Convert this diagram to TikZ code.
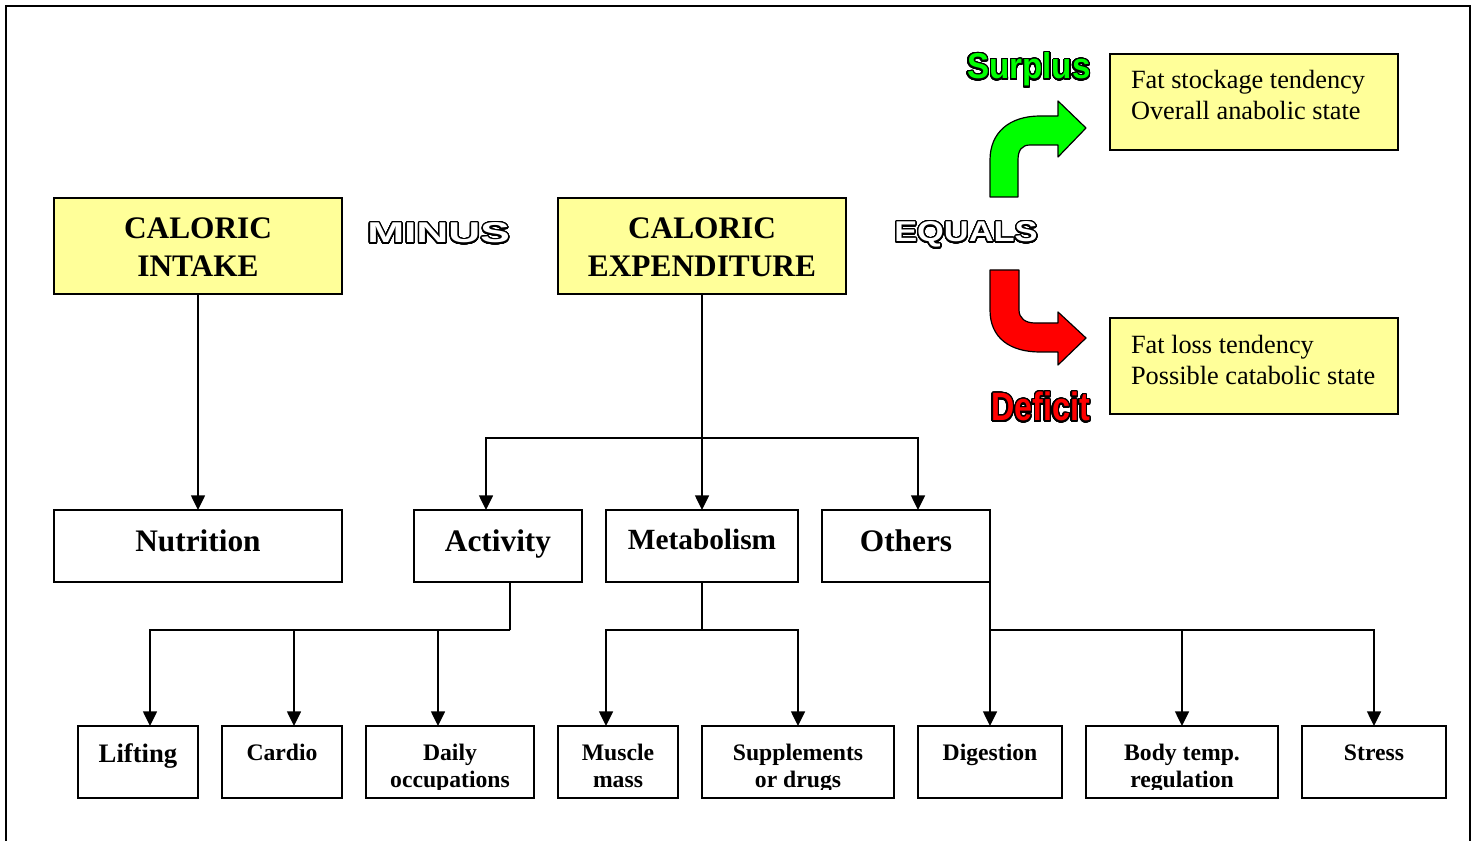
\documentclass[tikz,border=0pt]{standalone}
\usepackage{fontspec}
\setmainfont{Liberation Serif}
\newfontfamily\headsans{Liberation Sans}
\usepackage{contour}
\contourlength{1pt}
\contournumber{48}
\usetikzlibrary{arrows.meta}

\definecolor{boxyellow}{HTML}{FFFF99}
\definecolor{surplusgreen}{HTML}{00FF00}
\definecolor{deficitred}{HTML}{FF0000}

% fixed-size text block: width, height, first baseline below top, content
\newcommand\inbox[4]{\parbox[c][#2][t]{#1}{\centering\rule{0pt}{#3}#4}}
\newcommand\leftinbox[4]{\parbox[c][#2][t]{#1}{\raggedright\leftskip=15.75pt\rule{0pt}{#3}#4}}
\newcommand\headfont{\fontsize{23.5pt}{28.5pt}\selectfont\bfseries}
\newcommand\metafont{\fontsize{22pt}{26pt}\selectfont\bfseries}
\newcommand\notefont{\fontsize{19.75pt}{23.25pt}\selectfont}
\newcommand\leaffont{\fontsize{17.75pt}{20.25pt}\selectfont\bfseries}
\newcommand\liftfont{\fontsize{20pt}{24pt}\selectfont\bfseries}
% outlined word scaled to a given width and cap height
\newcommand\outlineword[4]{{\color{#3}\contour{black}{\resizebox{#1}{#2}{\headsans\bfseries #4}}}}

\tikzset{
  box/.style={draw, line width=1.5pt, inner sep=0pt, outer sep=0pt},
  ybox/.style={box, fill=boxyellow},
  leaf/.style={box, minimum height=54pt},
  conn/.style={line width=1.1pt, -{Triangle[length=11pt,width=10.5pt]}},
  plain/.style={line width=1.1pt},
  bigarrow/.style={line width=0.9pt, draw=black, line join=round},
  word/.style={inner sep=0pt, anchor=base west},
}

\begin{document}
\begin{tikzpicture}[x=0.75pt, y=-0.75pt]
\useasboundingbox (0,0) rectangle (1477,841);

% page frame
\draw[line width=1.5pt] (6,841) -- (6,6) -- (1470,6) -- (1470,841);

% top row
\node[ybox] (intake) at (198,246) {\headfont\inbox{216pt}{72pt}{30.4pt}{CALORIC\\INTAKE}};
\node[ybox] (expend) at (702,246) {\headfont\inbox{216pt}{72pt}{30.4pt}{CALORIC\\EXPENDITURE}};
\node[word] (minus) at (367,243) {\outlineword{107pt}{15pt}{white}{MINUS}};
\node[word] (equals) at (894,242) {\outlineword{107.5pt}{15pt}{white}{EQUALS}};

% outcomes
\node[word] (surplus) at (967,79) {\outlineword{92.5pt}{19.5pt}{surplusgreen}{Surplus}};
\node[word] (deficit) at (991,421) {\outlineword{74pt}{21.5pt}{deficitred}{Deficit}};
\node[ybox] (gain) at (1254,102) {\notefont\leftinbox{216pt}{72pt}{26.25pt}{Fat stockage tendency\\Overall anabolic state}};
\node[ybox] (loss) at (1254,366) {\notefont\leftinbox{216pt}{72pt}{26.25pt}{Fat loss tendency\\Possible catabolic state}};

\draw[bigarrow, fill=surplusgreen]
  (990,197) -- (990,160) .. controls (990,132) and (1010,116) .. (1040,116)
  -- (1058,116) -- (1058,101) -- (1086,128) -- (1058,157) -- (1058,145)
  -- (1030,145) .. controls (1022,145) and (1018,150) .. (1018,160)
  -- (1018,197) -- cycle;
\draw[bigarrow, fill=deficitred]
  (990,270) -- (1019,270) -- (1019,310) .. controls (1019,318) and (1025,323) .. (1035,323)
  -- (1058,323) -- (1058,312) -- (1086,338) -- (1058,365) -- (1058,352)
  -- (1040,352) .. controls (1010,352) and (990,338) .. (990,310) -- cycle;

% middle row
\node[box] (nutrition) at (198,546) {\headfont\inbox{216pt}{54pt}{31pt}{Nutrition}};
\node[box] (activity) at (498,546) {\headfont\inbox{126pt}{54pt}{31pt}{Activity}};
\node[box] (metab) at (702,546) {\metafont\inbox{144pt}{54pt}{29.6pt}{Metabolism}};
\node[box] (others) at (906,546) {\headfont\inbox{126pt}{54pt}{31pt}{Others}};

% bottom row
\node[leaf, minimum width=90pt] (lifting) at (138,762) {};
\node[leaf, minimum width=90pt] (cardio) at (282,762) {};
\node[leaf, minimum width=126pt] (daily) at (450,762) {};
\node[leaf, minimum width=90pt] (muscle) at (618,762) {};
\node[leaf, minimum width=144pt] (supp) at (798,762) {};
\node[leaf, minimum width=108pt] (digest) at (990,762) {};
\node[leaf, minimum width=144pt] (bodyt) at (1182,762) {};
\node[leaf, minimum width=108pt] (stress) at (1374,762) {};

\begin{scope}
  \clip (60,700) rectangle (1460,789);
  \node[inner sep=0pt] (lifting-t) at (lifting.center) {\liftfont\inbox{90pt}{54pt}{27pt}{Lifting}};
  \node[inner sep=0pt] (cardio-t) at (cardio.center) {\leaffont\inbox{90pt}{54pt}{25.5pt}{Cardio}};
  \node[inner sep=0pt] (daily-t) at (daily.center) {\leaffont\inbox{126pt}{54pt}{25.5pt}{Daily\\occupations}};
  \node[inner sep=0pt] (muscle-t) at (muscle.center) {\leaffont\inbox{90pt}{54pt}{25.5pt}{Muscle\\mass}};
  \node[inner sep=0pt] (supp-t) at (supp.center) {\leaffont\inbox{144pt}{54pt}{25.5pt}{Supplements\\or drugs}};
  \node[inner sep=0pt] (digest-t) at (digest.center) {\leaffont\inbox{108pt}{54pt}{25.5pt}{Digestion}};
  \node[inner sep=0pt] (bodyt-t) at (bodyt.center) {\leaffont\inbox{144pt}{54pt}{25.5pt}{Body temp.\\regulation}};
  \node[inner sep=0pt] (stress-t) at (stress.center) {\leaffont\inbox{108pt}{54pt}{25.5pt}{Stress}};
\end{scope}

% connectors
\draw[conn] (intake.south) -- (nutrition.north);
\draw[conn] (expend.south) -- (metab.north);
\coordinate (eb) at (702,438);
\draw[conn] (eb) -| ([xshift=-9pt]activity.north);
\draw[conn] (eb) -| ([xshift=9pt]others.north);

\draw[plain] ([xshift=9pt]activity.south) -- ++(0,48) coordinate (ab);
\draw[conn] (ab) -| ([xshift=9pt]lifting.north);
\draw[conn] (ab) -| ([xshift=9pt]cardio.north);
\draw[conn] (ab) -| ([xshift=-9pt]daily.north);

\draw[plain] (metab.south) -- ++(0,48) coordinate (mb);
\draw[conn] (mb) -| ([xshift=-9pt]muscle.north);
\draw[conn] (mb) -| (supp.north);

\draw[conn] (others.south east) -- (digest.north);
\coordinate (ob) at (990,630);
\draw[conn] (ob) -| (bodyt.north);
\draw[conn] (ob) -| (stress.north);
\end{tikzpicture}
\end{document}
